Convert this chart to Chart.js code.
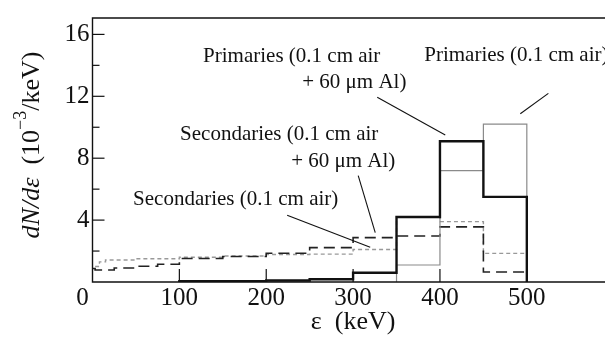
<!DOCTYPE html>
<html><head><meta charset="utf-8">
<script src="https://cdn.jsdelivr.net/npm/chart.js@4/dist/chart.umd.min.js"></script>
<style>html,body{margin:0;padding:0;background:#fff;}#wrap{width:605px;height:339px;position:relative;}</style>
</head><body><div id="wrap"><canvas id="c" width="605" height="339"></canvas></div>
<script>
// ---- data (energy bin edges in keV, values in 10^-3/keV) ----
const primAirEdges = [350, 400, 450, 500];
const primAirValues = [1.1, 7.2, 10.2];
const primAlEdges = [100, 200, 250, 300, 350, 400, 450, 500];
const primAlValues = [0.05, 0.1, 0.18, 0.6, 4.2, 9.1, 5.5];
const secAlEdges = [0, 3, 25, 50, 75, 100, 150, 200, 250, 300, 350, 400, 450, 500];
const secAlValues = [0.87, 0.78, 0.9, 1.02, 1.15, 1.52, 1.65, 1.86, 2.22, 2.87, 2.97, 3.56, 0.65];
const secAirEdges = [3, 8, 15, 50, 100, 150, 200, 250, 300, 350, 400, 450, 500];
const secAirValues = [1.0, 1.3, 1.42, 1.5, 1.6, 1.68, 1.78, 1.8, 2.1, 4.2, 3.9, 1.85];
const xTickValues = [100, 200, 300, 400, 500];
const yTickValues = [4, 8, 12, 16];

const X_MAX = 590, Y_MAX = 17.06;
const FONT = "'Liberation Serif', 'Times New Roman', serif";

function steps(edges, values, fromZero) {
  const pts = [];
  if (fromZero) pts.push({x: edges[0], y: 0});
  for (let i = 0; i < values.length; i++) pts.push({x: edges[i], y: values[i]});
  pts.push({x: edges[edges.length - 1], y: 0});
  return pts;
}

// annotation placement (data coordinates)
const notes = [
  {t: 'Primaries (0.1 cm air', x: 127.3, y: 14.56},
  {t: '+ 60 \u03bcm Al)', x: 241.4, y: 12.875},
  {t: 'Primaries (0.1 cm air)', x: 381.9, y: 14.625},
  {t: 'Secondaries (0.1 cm air', x: 100.8, y: 9.56},
  {t: '+ 60 \u03bcm Al)', x: 228.7, y: 7.81},
  {t: 'Secondaries (0.1 cm air)', x: 46.7, y: 5.31}
];
const leaders = [
  [327.8, 11.94, 406.1, 9.5],
  [524.8, 12.19, 492.5, 10.875],
  [305.9, 6.875, 325.5, 3.19],
  [224.1, 4.31, 319.7, 2.25]
];

const deco = {
  id: 'deco',
  afterDraw(chart) {
    const ctx = chart.ctx, a = chart.chartArea;
    const xs = chart.scales.x, ys = chart.scales.y;
    ctx.save();
    ctx.strokeStyle = '#111';
    ctx.lineWidth = 1.4;
    ctx.beginPath();
    ctx.moveTo(a.right + 5, a.top); ctx.lineTo(a.left, a.top);
    ctx.lineTo(a.left, a.bottom); ctx.lineTo(a.right + 5, a.bottom);
    ctx.stroke();
    // y ticks (major + minor)
    ctx.lineWidth = 1.2;
    for (let v = 2; v <= 16; v += 2) {
      const py = ys.getPixelForValue(v);
      const len = (v % 4 === 0) ? 12 : 7;
      ctx.beginPath(); ctx.moveTo(a.left, py); ctx.lineTo(a.left + len, py); ctx.stroke();
    }
    xTickValues.forEach(v => {
      const px = xs.getPixelForValue(v);
      ctx.beginPath(); ctx.moveTo(px, a.bottom); ctx.lineTo(px, a.bottom - 13); ctx.stroke();
    });
    // leaders
    ctx.lineWidth = 1.1;
    leaders.forEach(l => {
      ctx.beginPath();
      ctx.moveTo(xs.getPixelForValue(l[0]), ys.getPixelForValue(l[1]));
      ctx.lineTo(xs.getPixelForValue(l[2]), ys.getPixelForValue(l[3]));
      ctx.stroke();
    });
    // annotation text
    ctx.fillStyle = '#111';
    ctx.font = '21px ' + FONT;
    ctx.textAlign = 'left'; ctx.textBaseline = 'middle';
    notes.forEach(n => ctx.fillText(n.t, xs.getPixelForValue(n.x), ys.getPixelForValue(n.y)));
    // shared origin label
    ctx.font = '25px ' + FONT;
    ctx.textAlign = 'center';
    ctx.fillText('0', a.left - 10, a.bottom + 16);
    // x title
    ctx.font = '26px ' + FONT;
    ctx.fillText('\u03b5  (keV)', xs.getPixelForValue(300), 322);
    // y title (rotated, mixed styles)
    ctx.translate(32, 145);
    ctx.rotate(-Math.PI / 2);
    const parts = [
      {t: 'dN/d\u03b5', f: 'italic 26px ' + FONT, dy: 0},
      {t: '  (10', f: '26px ' + FONT, dy: 0},
      {t: '\u22123', f: '18px ' + FONT, dy: -11},
      {t: '/keV)', f: '26px ' + FONT, dy: 0}
    ];
    let total = 0;
    parts.forEach(p => { ctx.font = p.f; p.w = ctx.measureText(p.t).width; total += p.w; });
    let cx = -total / 2;
    ctx.textAlign = 'left'; ctx.textBaseline = 'middle';
    parts.forEach(p => { ctx.font = p.f; ctx.fillText(p.t, cx, p.dy); cx += p.w; });
    ctx.restore();
  }
};

new Chart(document.getElementById('c'), {
  type: 'line',
  data: {
    datasets: [
      {label: 'Primaries (0.1 cm air + 60 \u03bcm Al)', data: steps(primAlEdges, primAlValues, true),
       borderColor: '#111', borderWidth: 2.4, stepped: true, pointRadius: 0, fill: false},
      {label: 'Primaries (0.1 cm air)', data: steps(primAirEdges, primAirValues, true),
       borderColor: '#8a8a8a', borderWidth: 1.2, stepped: true, pointRadius: 0, fill: false},
      {label: 'Secondaries (0.1 cm air + 60 \u03bcm Al)', data: steps(secAlEdges, secAlValues, false),
       borderColor: '#222', borderWidth: 1.6, borderDash: [11, 6], stepped: true, pointRadius: 0, fill: false},
      {label: 'Secondaries (0.1 cm air)', data: steps(secAirEdges, secAirValues, false),
       borderColor: '#999', borderWidth: 1.4, borderDash: [4, 3], stepped: true, pointRadius: 0, fill: false}
    ]
  },
  options: {
    responsive: false, animation: false, events: [],
    layout: {padding: {top: 9, right: 0, left: 0, bottom: 0}},
    plugins: {legend: {display: false}, tooltip: {enabled: false}},
    scales: {
      x: {type: 'linear', min: 0, max: X_MAX,
          grid: {display: false, drawTicks: false}, border: {display: false},
          afterFit: s => { s.height = 57; },
          afterBuildTicks: s => { s.ticks = xTickValues.map(v => ({value: v})); },
          ticks: {padding: 1, color: '#111', font: {family: FONT, size: 25}, maxRotation: 0, autoSkip: false}},
      y: {min: 0, max: Y_MAX,
          grid: {display: false, drawTicks: false}, border: {display: false},
          afterFit: s => { s.width = 92.5; },
          afterBuildTicks: s => { s.ticks = yTickValues.map(v => ({value: v})); },
          ticks: {padding: 3, color: '#111', font: {family: FONT, size: 25}}}
    }
  },
  plugins: [deco]
});
</script></body></html>
